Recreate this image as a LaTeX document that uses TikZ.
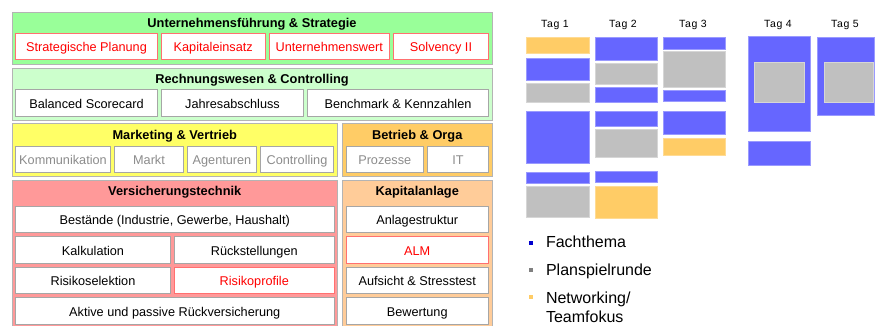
\documentclass[tikz,border=0pt]{standalone}
\usepackage{fontspec}
\setmainfont{Liberation Sans}
\newfontfamily\dayfont[LetterSpace=6]{Liberation Sans}

% area colours
\definecolor{areaGreen}{HTML}{99FF99}
\definecolor{areaLightGreen}{HTML}{CCFFCC}
\definecolor{areaYellow}{HTML}{FFFF66}
\definecolor{areaOrange}{HTML}{FFCC66}
\definecolor{areaRed}{HTML}{FF9999}
\definecolor{areaPeach}{HTML}{FFCC99}
\definecolor{frameGray}{HTML}{B4B4B4}
\definecolor{cellGray}{HTML}{A6A6A6}
\definecolor{cellRed}{HTML}{FF7070}
\definecolor{dimText}{HTML}{8C8C8C}
% schedule colours
\definecolor{slotBlue}{HTML}{6666FF}
\definecolor{slotBlueEdge}{HTML}{9A9AFF}
\definecolor{slotGray}{HTML}{C0C0C0}
\definecolor{slotGrayEdge}{HTML}{D6D6D6}
\definecolor{slotOrange}{HTML}{FFCC66}
\definecolor{slotOrangeEdge}{HTML}{FFDB94}
\definecolor{bulletBlue}{HTML}{0000CC}
\definecolor{bulletGray}{HTML}{808080}

\tikzset{
  % a rectangle given by its corners (x1,y1) (x2,y2)
  boxspan/.style n args={4}{
    at={({(#1+#3)/2},{(#2+#4)/2})},
    minimum width={(#3-#1)*1pt}, minimum height={(#4-#2)*1pt}},
  area/.style={draw=frameGray, line width=1pt, inner sep=0pt},
  cell/.style={draw=cellGray, fill=white, line width=1pt, inner sep=0pt,
               text height=11pt, text depth=0.5pt},
  redcell/.style={cell, draw=cellRed, text=red},
  dimcell/.style={cell, text=dimText},
  head/.style={font=\fontsize{12.8}{15}\selectfont\bfseries, anchor=base},
  slotB/.style={fill=slotBlue, draw=slotBlueEdge, line width=0.8pt},
  slotG/.style={fill=slotGray, draw=slotGrayEdge, line width=0.8pt},
  slotO/.style={fill=slotOrange, draw=slotOrangeEdge, line width=0.8pt},
  daylabel/.style={font=\dayfont\fontsize{10.5}{12}\selectfont},
  legend/.style={font=\fontsize{16}{19}\selectfont, anchor=base west},
}

\begin{document}
\begin{tikzpicture}[x=1pt, y=-1pt, font=\fontsize{12.7}{15}\selectfont]
\useasboundingbox (0,0) rectangle (875,325);

% ---------- subject areas ----------
\node[area, fill=areaGreen, boxspan={12}{12}{492}{64}] (ustrat) {};
\node[head] (ustratT) at ([yshift=-16pt]ustrat.north) {Unternehmensführung \& Strategie};
\node[redcell, boxspan={15.5}{33.5}{157.5}{59.5}] (plan) {Strategische Planung};
\node[redcell, boxspan={161.5}{33.5}{265}{59.5}] (kap) {Kapitaleinsatz};
\node[redcell, boxspan={269}{33.5}{389.5}{59.5}] (uwert) {Unternehmenswert};
\node[redcell, boxspan={393.5}{33.5}{488.5}{59.5}] (solv) {Solvency II};

\node[area, fill=areaLightGreen, boxspan={12}{68}{492}{120}] (rwc) {};
\node[head] (rwcT) at ([yshift=-16pt]rwc.north) {Rechnungswesen \& Controlling};
\node[cell, boxspan={15.5}{89.5}{157.5}{116.5}] (bsc) {Balanced Scorecard};
\node[cell, boxspan={161.5}{89.5}{303.5}{116.5}] (jab) {Jahresabschluss};
\node[cell, boxspan={307.5}{89.5}{488.5}{116.5}] (bench) {Benchmark \& Kennzahlen};

\node[area, fill=areaYellow, boxspan={12}{123.5}{337.5}{176.5}] (mv) {};
\node[head] (mvT) at ([yshift=-16pt]mv.north) {Marketing \& Vertrieb};
\node[dimcell, boxspan={15.5}{146}{110.5}{172.5}] (komm) {Kommunikation};
\node[dimcell, boxspan={114.5}{146}{183.5}{172.5}] (markt) {Markt};
\node[dimcell, boxspan={187.5}{146}{256.5}{172.5}] (agent) {Agenturen};
\node[dimcell, boxspan={260.5}{146}{333.5}{172.5}] (contr) {Controlling};

\node[area, fill=areaOrange, boxspan={342.5}{123.5}{492}{176.5}] (bo) {};
\node[head] (boT) at ([yshift=-16pt]bo.north) {Betrieb \& Orga};
\node[dimcell, boxspan={346}{146}{423.5}{172.5}] (proz) {Prozesse};
\node[dimcell, boxspan={427.5}{146}{488.5}{172.5}] (it) {IT};

\node[area, fill=areaRed, boxspan={12}{180}{337.5}{327}] (vt) {};
\node[head] (vtT) at ([yshift=-16pt]vt.north) {Versicherungstechnik};
\node[cell, boxspan={15.5}{206.5}{334}{232.5}] (best) {Bestände (Industrie, Gewerbe, Haushalt)};
\node[cell, boxspan={15.5}{236.5}{170.5}{263.5}] (kalk) {Kalkulation};
\node[cell, boxspan={174.5}{236.5}{334}{263.5}] (rueck) {Rückstellungen};
\node[cell, boxspan={15.5}{267.5}{170.5}{293.5}] (rsel) {Risikoselektion};
\node[redcell, boxspan={174.5}{267.5}{334}{293.5}] (rprof) {Risikoprofile};
\node[cell, boxspan={15.5}{297.5}{334}{324}] (rv) {Aktive und passive Rückversicherung};

\node[area, fill=areaPeach, boxspan={342.5}{180}{492}{327}] (ka) {};
\node[head] (kaT) at ([yshift=-16pt]ka.north) {Kapitalanlage};
\node[cell, boxspan={346}{206.5}{488.5}{232.5}] (astr) {Anlagestruktur};
\node[redcell, boxspan={346}{236.5}{488.5}{263.5}] (alm) {ALM};
\node[cell, boxspan={346}{267.5}{488.5}{293.5}] (aufs) {Aufsicht \& Stresstest};
\node[cell, boxspan={346}{297.5}{488.5}{324}] (bew) {Bewertung};

% ---------- week schedule ----------
\node[daylabel] (d1) at (555,25) {Tag 1};
\node[daylabel] (d2) at (623,25) {Tag 2};
\node[daylabel] (d3) at (693,25) {Tag 3};
\node[daylabel] (d4) at (778,25) {Tag 4};
\node[daylabel] (d5) at (845,25) {Tag 5};

% day 1
\path[slotO] (526.5,37.5) rectangle (589.5,53.5);
\path[slotB] (526.5,58.5) rectangle (589.5,80);
\path[slotG] (526.5,83.5) rectangle (589.5,102.5);
\path[slotB] (526.5,111.5) rectangle (589.5,163.5);
\path[slotB] (526.5,172.5) rectangle (589.5,183.5);
\path[slotG] (526.5,186.5) rectangle (589.5,217.5);
% day 2
\path[slotB] (595.5,37.5) rectangle (657,60);
\path[slotG] (595.5,63.5) rectangle (657,84);
\path[slotB] (595.5,87.5) rectangle (657,102.5);
\path[slotB] (595.5,111.5) rectangle (657,126);
\path[slotG] (595.5,129.5) rectangle (657,157.5);
\path[slotB] (595.5,171.5) rectangle (657,182.5);
\path[slotO] (595.5,186.5) rectangle (657,218.5);
% day 3
\path[slotB] (663.5,37.5) rectangle (725.5,49);
\path[slotG] (663,51.5) rectangle (725.5,87.5);
\path[slotB] (663.5,90.5) rectangle (725.5,101.5);
\path[slotB] (663.5,111.5) rectangle (725.5,134);
\path[slotO] (663.5,138.5) rectangle (725.5,155);
% day 4
\path[slotB] (748.5,36.5) rectangle (810.5,131.5);
\path[slotG] (754,62.5) rectangle (804,102.5);
\path[slotB] (748.5,141.5) rectangle (810.5,165);
% day 5
\path[slotB] (817,37.5) rectangle (874.5,115.5);
\path[slotG] (824,62.5) rectangle (873.5,102.5);

% ---------- legend ----------
\fill[bulletBlue] (529.3,240.7) rectangle (533.3,244.7);
\fill[bulletGray] (529.3,268) rectangle (533.3,272);
\fill[slotOrange] (529.3,295.3) rectangle (533.3,299.3);
\node[legend] (lg1) at (542.5,247.5) {Fachthema};
\node[legend] (lg2) at (542.5,275) {Planspielrunde};
\node[legend] (lg3) at (542.5,303) {Networking/};
\node[legend] (lg4) at (542.5,322.5) {Teamfokus};
\end{tikzpicture}
\end{document}
